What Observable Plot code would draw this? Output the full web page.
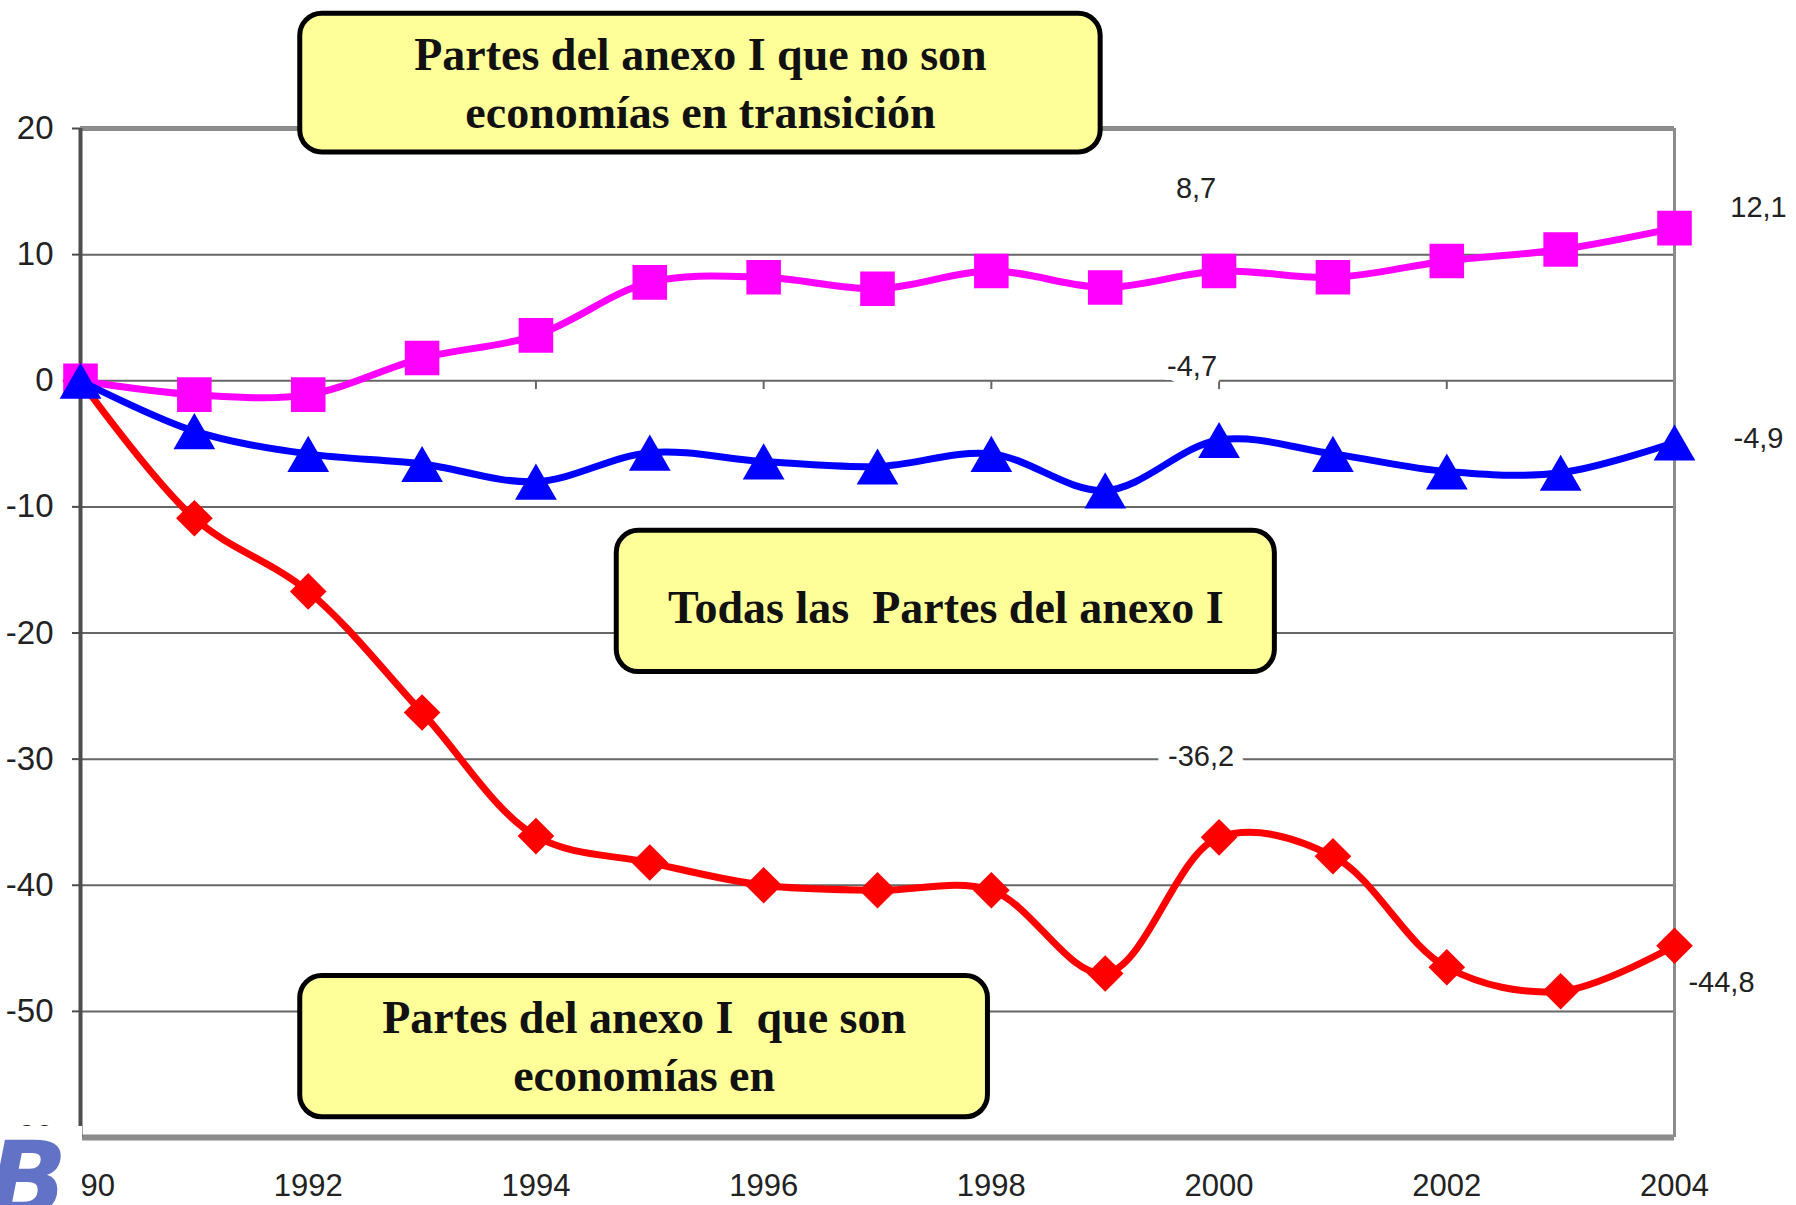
<!DOCTYPE html>
<html>
<head>
<meta charset="utf-8">
<script src="https://cdn.jsdelivr.net/npm/d3@7"></script>
<script src="https://cdn.jsdelivr.net/npm/@observablehq/plot@0.6"></script>
<style>
  html, body { margin: 0; padding: 0; background: #fff; }
  #wrap { position: relative; width: 1796px; height: 1205px; overflow: hidden; }
  #logo { position: absolute; left: 0; top: 1126px; width: 82px; height: 79px; background: #fff; overflow: hidden; }
  #logo span { position: absolute; left: -12px; top: -8px; font: italic bold 104px "DejaVu Sans", sans-serif; color: #6272c6; }
</style>
</head>
<body>
<div id="wrap"><div id="logo"><span>B</span></div></div>
<script>
// ---- data ----
const years = [1990, 1991, 1992, 1993, 1994, 1995, 1996, 1997, 1998, 1999, 2000, 2001, 2002, 2003, 2004];
const noTransicion = [0, -1.1, -1.1, 1.8, 3.6, 7.8, 8.2, 7.3, 8.7, 7.4, 8.7, 8.2, 9.5, 10.4, 12.1];
const todasAnexoI = [0, -4.0, -5.8, -6.6, -8.0, -5.7, -6.4, -6.8, -5.8, -8.7, -4.7, -5.8, -7.2, -7.3, -4.9];
const transicion = [0, -10.9, -16.7, -26.3, -36.1, -38.2, -40.0, -40.4, -40.4, -47.0, -36.2, -37.7, -46.5, -48.4, -44.8];
const xTicks = [1990, 1992, 1994, 1996, 1998, 2000, 2002, 2004];
const yTicks = [-60, -50, -40, -30, -20, -10, 0, 10, 20];
const labelYears = [2000, 2004];
const boxTexts = [
  "Partes del anexo I que no son\neconomías en transición",
  "Todas las\u00a0 Partes del anexo I",
  "Partes del anexo I\u00a0 que son\neconomías en"
];
// annotation boxes, in data units (years, %)
const boxX1 = [1991.93, 1994.71, 1991.93];
const boxX2 = [1998.96, 2000.49, 1997.97];
const boxY1 = [29.1, -11.9, -47.2];
const boxY2 = [18.1, -23.1, -58.4];

const toRows = vals => years.map((year, i) => ({year, value: vals[i]}));
const magenta = toRows(noTransicion);
const blue = toRows(todasAnexoI);
const red = toRows(transicion);
const boxes = boxTexts.map((text, i) => ({text, x1: boxX1[i], x2: boxX2[i], y1: boxY1[i], y2: boxY2[i]}));
const fmt = v => String(v).replace(".", ",");
const pick = (rows, yr) => rows.filter(d => d.year === yr);

const sans = "'Liberation Sans', Arial, sans-serif";
const serif = "'Liberation Serif', 'Times New Roman', serif";
const boxTextOpts = {x: d => (d.x1 + d.x2) / 2, y: d => (d.y1 + d.y2) / 2, text: "text", fontSize: 46, fontWeight: "bold",
  fontFamily: serif, fill: "#111", lineHeight: 1.26};

const chart = Plot.plot({
  width: 1796,
  height: 1205,
  marginLeft: 80,
  marginRight: 122,
  marginTop: 128,
  marginBottom: 68,
  x: {domain: [1990, 2004]},
  y: {domain: [-60, 20]},
  style: {background: "white", fontFamily: sans},
  marks: [
    Plot.ruleY(yTicks.filter(v => v > -60 && v < 20), {stroke: "#666", strokeWidth: 2}),
    Plot.ruleX(xTicks.slice(1), {y1: 0, y2: -0.7, stroke: "#666", strokeWidth: 2}),
    Plot.ruleY([20], {stroke: "#8c8c8c", strokeWidth: 5}),
    Plot.ruleY([-60], {stroke: "#8c8c8c", strokeWidth: 6}),
    Plot.ruleX([2004], {stroke: "#8c8c8c", strokeWidth: 3}),
    Plot.axisY(yTicks, {tickSize: 8, tickPadding: 19, fontSize: 33, stroke: "#4d4d4d", strokeWidth: 2, fill: "#222", tickFormat: d => String(d), label: null}),
    Plot.axisX(xTicks, {tickSize: 0, tickPadding: 36, fontSize: 31, fill: "#222", tickFormat: d => String(d), label: null}),
    Plot.ruleX([1990], {stroke: "#4d4d4d", strokeWidth: 4}),
    // annotation boxes
    Plot.rect(boxes, {x1: "x1", x2: "x2", y1: "y1", y2: "y2", fill: "#ffff99", stroke: "#000", strokeWidth: 5, rx: 22}),
    Plot.text(boxes.filter(d => d.text.includes("\n")), {...boxTextOpts, dy: -3}),
    Plot.text(boxes.filter(d => !d.text.includes("\n")), {...boxTextOpts, dy: 3}),
    // series
    Plot.line(red, {x: "year", y: "value", stroke: "#ff0000", strokeWidth: 7, curve: "catmull-rom"}),
    Plot.dot(red, {x: "year", y: "value", symbol: "diamond2", r: 16.5, fill: "#ff0000", stroke: null}),
    Plot.line(magenta, {x: "year", y: "value", stroke: "#ff00ff", strokeWidth: 7, curve: "catmull-rom"}),
    Plot.dot(magenta, {x: "year", y: "value", symbol: "square", r: 19.5, fill: "#ff00ff", stroke: null}),
    Plot.line(blue, {x: "year", y: "value", stroke: "#0000ff", strokeWidth: 7, curve: "catmull-rom"}),
    Plot.dot(blue, {x: "year", y: "value", symbol: "triangle", r: 15.5, fill: "#0000ff", stroke: null, dy: 6}),
    // value labels
    Plot.text(pick(magenta, labelYears[0]), {x: "year", y: "value", text: d => fmt(d.value), dx: -23, dy: -82, fontSize: 29, fill: "#222"}),
    Plot.text(pick(blue, labelYears[0]), {x: "year", y: "value", text: d => fmt(d.value), dx: -27, dy: -73, fontSize: 29, fill: "#222", stroke: "white", strokeWidth: 22}),
    Plot.text(pick(red, labelYears[0]), {x: "year", y: "value", text: d => fmt(d.value), dx: -18, dy: -81, fontSize: 29, fill: "#222", stroke: "white", strokeWidth: 22}),
    Plot.text(pick(magenta, labelYears[1]), {x: "year", y: "value", text: d => fmt(d.value), dx: 84, dy: -20, fontSize: 29, fill: "#222"}),
    Plot.text(pick(blue, labelYears[1]), {x: "year", y: "value", text: d => fmt(d.value), dx: 84, dy: -4, fontSize: 29, fill: "#222"}),
    Plot.text(pick(red, labelYears[1]), {x: "year", y: "value", text: d => fmt(d.value), dx: 47, dy: 37, fontSize: 29, fill: "#222"})
  ]
});
document.getElementById("wrap").insertBefore(chart, document.getElementById("logo"));
</script>
</body>
</html>
